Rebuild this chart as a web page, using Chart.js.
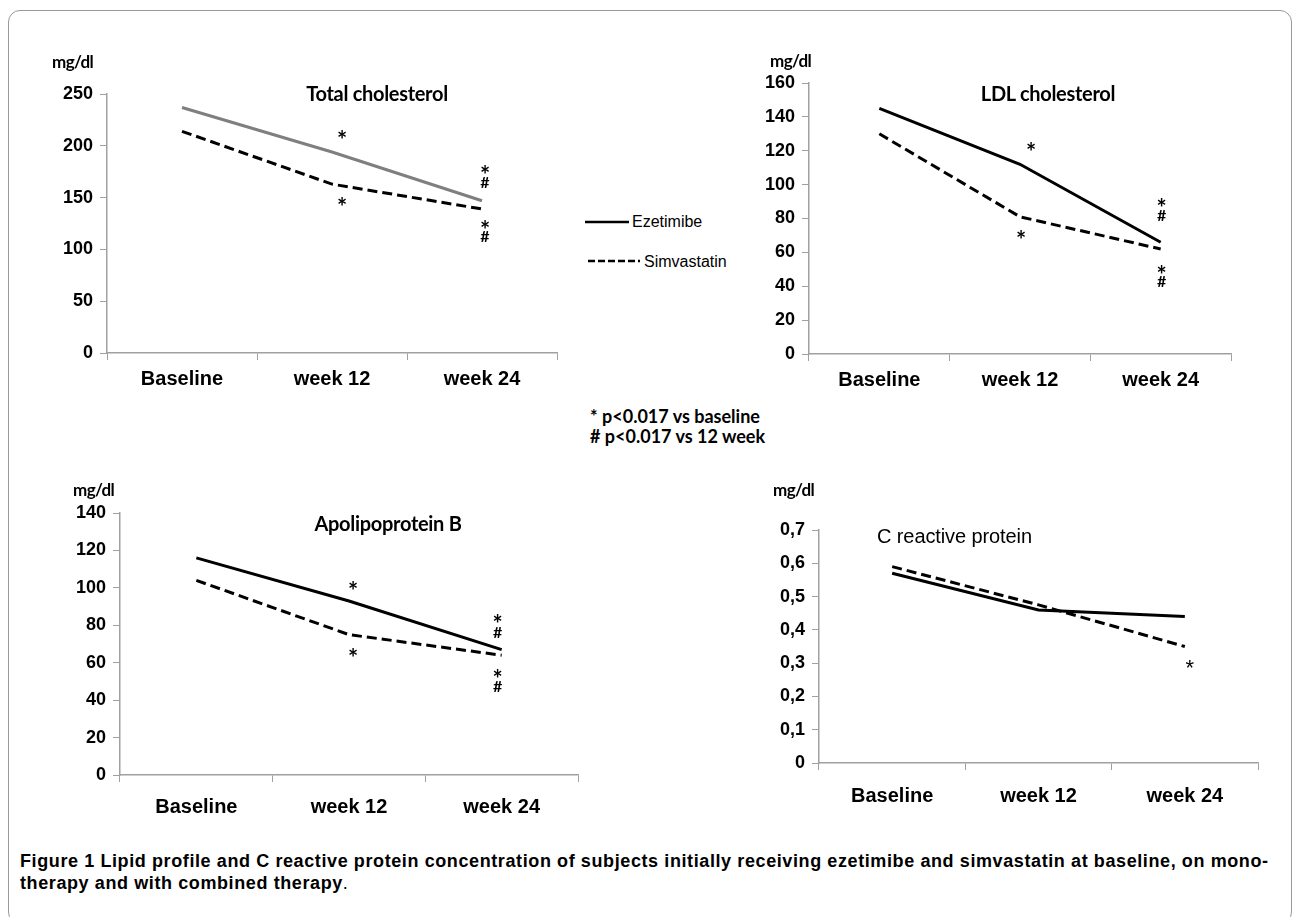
<!DOCTYPE html>
<html>
<head>
<meta charset="utf-8">
<script src="https://cdn.jsdelivr.net/npm/chart.js@4"></script>
<style>
    body { margin: 0; background: #fff; width: 1292px; height: 917px; position: relative; overflow: hidden; }
    .frame { position: absolute; left: 8px; top: 10px; width: 1282px; height: 912px; border: 1px solid #999; border-radius: 12px; }
    canvas { position: absolute; }
    .txt { position: absolute; white-space: nowrap; color: #000; transform: translate(0, -50%); }
    .unit { font: bold 17px Lato, sans-serif; letter-spacing: -0.6px; }
    .title { font: bold 20px Lato, sans-serif; letter-spacing: -0.3px; transform: translate(-50%, -50%); }
    .note { font: bold 18px Lato, sans-serif; letter-spacing: 0px; }
    .legend { font: 16px "Liberation Sans", Arial, sans-serif; }
    .caption { position: absolute; left: 20px; top: 850px; font: bold 18px "Liberation Sans", Arial, sans-serif; line-height: 22px; letter-spacing: 0.6px; white-space: nowrap; }
</style>
</head>
<body>
<div class="frame"></div>

<canvas id="tc"></canvas>
<canvas id="ldl"></canvas>
<canvas id="apo"></canvas>
<canvas id="crp"></canvas>

<div class="txt unit" style="left:52px; top:61px;">mg/dl</div>
<div class="txt unit" style="left:770px; top:60px;">mg/dl</div>
<div class="txt unit" style="left:73px; top:489px;">mg/dl</div>
<div class="txt unit" style="left:773px; top:489px;">mg/dl</div>

<div class="txt title" style="left:377px; top:93px;">Total cholesterol</div>
<div class="txt title" style="left:1048px; top:93px;">LDL cholesterol</div>
<div class="txt title" style="left:388px; top:523px;">Apolipoprotein B</div>
<div class="txt" style="left:877px; top:536px; font: 20px 'Liberation Sans', Arial, sans-serif; letter-spacing:-0.1px;">C reactive protein</div>

<!-- legend -->
<svg style="position:absolute; left:584px; top:210px;" width="60" height="60">
    <line x1="1" y1="12" x2="45" y2="12" stroke="#000" stroke-width="2.5"/>
    <line x1="4" y1="51" x2="56" y2="51" stroke="#000" stroke-width="2.5" stroke-dasharray="7,3"/>
</svg>
<div class="txt legend" style="left:632px; top:222px;">Ezetimibe</div>
<div class="txt legend" style="left:644px; top:262px;">Simvastatin</div>

<div class="txt note" style="left:590px; top:416px;">* p&lt;0.017 vs baseline</div>
<div class="txt note" style="left:590px; top:436px;"># p&lt;0.017 vs 12 week</div>

<div class="caption">Figure 1 Lipid profile and C reactive protein concentration of subjects initially receiving ezetimibe and simvastatin at baseline, on mono-<br>therapy and with combined therapy<span style="font-weight:normal">.</span></div>

<script>
// Data
const categories = ['Baseline', 'week 12', 'week 24'];
const seriesNames = ['Ezetimibe', 'Simvastatin'];

const tcEzetimibe = [237, 194, 147];
const tcSimvastatin = [214, 163, 139];
const tcTicks = [0, 50, 100, 150, 200, 250];

const ldlEzetimibe = [145, 112, 66];
const ldlSimvastatin = [130, 81, 62];
const ldlTicks = [0, 20, 40, 60, 80, 100, 120, 140, 160];

const apoEzetimibe = [116, 93, 67];
const apoSimvastatin = [104, 75, 64];
const apoTicks = [0, 20, 40, 60, 80, 100, 120, 140];

const crpEzetimibe = [0.57, 0.46, 0.44];
const crpSimvastatin = [0.59, 0.475, 0.35];
const crpTicks = [0, 0.1, 0.2, 0.3, 0.4, 0.5, 0.6, 0.7];

// significance marks: dataset, category index, symbol, pixel offset from the point
const tcMarks = [
    { ds: 0, i: 1, text: '*', dx: 10, dy: -18 },
    { ds: 1, i: 1, text: '*', dx: 10, dy: 17 },
    { ds: 0, i: 2, text: '*', dx: 3, dy: -31 },
    { ds: 0, i: 2, text: '#', dx: 3, dy: -18 },
    { ds: 1, i: 2, text: '*', dx: 3, dy: 15 },
    { ds: 1, i: 2, text: '#', dx: 3, dy: 28 }
];
const ldlMarks = [
    { ds: 0, i: 1, text: '*', dx: 11, dy: -18 },
    { ds: 1, i: 1, text: '*', dx: 1, dy: 17 },
    { ds: 0, i: 2, text: '*', dx: 1, dy: -40 },
    { ds: 0, i: 2, text: '#', dx: 1, dy: -26 },
    { ds: 1, i: 2, text: '*', dx: 1, dy: 20 },
    { ds: 1, i: 2, text: '#', dx: 1, dy: 33 }
];
const apoMarks = [
    { ds: 0, i: 1, text: '*', dx: 4, dy: -16 },
    { ds: 1, i: 1, text: '*', dx: 4, dy: 18 },
    { ds: 0, i: 2, text: '*', dx: -4, dy: -31 },
    { ds: 0, i: 2, text: '#', dx: -4, dy: -17 },
    { ds: 1, i: 2, text: '*', dx: -4, dy: 18 },
    { ds: 1, i: 2, text: '#', dx: -4, dy: 32 }
];
const crpMarks = [
    { ds: 1, i: 2, text: '*', dx: 5, dy: 17 }
];

const marksPlugin = {
    id: 'marks',
    afterDatasetsDraw(chart, args, opts) {
        const ctx = chart.ctx;
        const x = chart.scales.x;
        const y = chart.scales.y;
        ctx.save();
        ctx.fillStyle = '#000';
        ctx.textAlign = 'center';
        ctx.textBaseline = 'middle';
        (opts.items || []).forEach(m => {
            const v = chart.data.datasets[m.ds].data[m.i];
            const px = x.getPixelForValue(m.i) + m.dx;
            let py = y.getPixelForValue(v) + m.dy;
            if (m.text === '*') {
                ctx.font = opts.starFont;
                py += opts.starShift;
            } else {
                ctx.font = opts.hashFont;
            }
            ctx.fillText(m.text, px, py);
        });
        ctx.restore();
    }
};

function makeChart(id, box, area, ezetimibe, simvastatin, ticks, marks, style) {
    const canvas = document.getElementById(id);
    canvas.width = box.width;
    canvas.height = box.height;
    canvas.style.left = box.left + 'px';
    canvas.style.top = box.top + 'px';

    const yWidth = area.left - box.left;
    const xHeight = box.top + box.height - area.bottom;

    return new Chart(canvas.getContext('2d'), {
        type: 'line',
        data: {
            labels: categories,
            datasets: [{
                label: seriesNames[0],
                data: ezetimibe,
                borderColor: style.solidColor || '#000',
                borderWidth: 3,
                pointRadius: 0,
                tension: 0,
                fill: false
            }, {
                label: seriesNames[1],
                data: simvastatin,
                borderColor: '#000',
                borderWidth: 3,
                borderDash: [10, 5],
                pointRadius: 0,
                tension: 0,
                fill: false
            }]
        },
        options: {
            responsive: false,
            animation: false,
            layout: {
                padding: {
                    top: area.top - box.top,
                    right: box.left + box.width - area.right,
                    left: 0,
                    bottom: 0
                }
            },
            plugins: {
                legend: { display: false },
                tooltip: { enabled: false },
                marks: {
                    items: marks,
                    starFont: style.starFont || 'bold 24px Lato, sans-serif',
                    starShift: style.starShift || 7,
                    hashFont: 'bold 16px Lato, sans-serif'
                }
            },
            scales: {
                x: {
                    offset: true,
                    afterFit: s => { s.height = xHeight; },
                    grid: {
                        offset: true,
                        drawOnChartArea: false,
                        drawTicks: true,
                        tickLength: 7,
                        color: '#a0a0a0'
                    },
                    border: { display: true, color: '#a0a0a0', width: 1.5 },
                    ticks: {
                        color: '#000',
                        padding: style.xPad || 8,
                        maxRotation: 0,
                        font: style.xFont
                    }
                },
                y: {
                    min: ticks[0],
                    max: ticks[ticks.length - 1],
                    afterFit: s => { s.width = yWidth; },
                    grid: {
                        drawOnChartArea: false,
                        drawTicks: true,
                        tickLength: 7,
                        color: '#a0a0a0'
                    },
                    border: { display: true, color: '#a0a0a0', width: 1.5 },
                    ticks: {
                        stepSize: ticks[1] - ticks[0],
                        color: '#000',
                        padding: 7,
                        font: { family: '"Liberation Sans", Arial, sans-serif', size: 18, weight: 'bold' },
                        callback: style.yFormat || (v => v)
                    }
                }
            }
        },
        plugins: [marksPlugin]
    });
}

const arialBold = { family: '"Liberation Sans", Arial, sans-serif', size: 20, weight: 'bold' };

makeChart('tc',
    { left: 30, top: 40, width: 540, height: 350 },
    { left: 107, top: 94, right: 557, bottom: 353 },
    tcEzetimibe, tcSimvastatin, tcTicks, tcMarks,
    { solidColor: '#7f7f7f', xFont: arialBold, xPad: 7 });

makeChart('ldl',
    { left: 740, top: 40, width: 510, height: 350 },
    { left: 809, top: 83, right: 1231, bottom: 354 },
    ldlEzetimibe, ldlSimvastatin, ldlTicks, ldlMarks,
    { xFont: arialBold, xPad: 7 });

makeChart('apo',
    { left: 40, top: 470, width: 560, height: 350 },
    { left: 120, top: 513, right: 578, bottom: 775 },
    apoEzetimibe, apoSimvastatin, apoTicks, apoMarks,
    { xFont: arialBold, xPad: 13 });

makeChart('crp',
    { left: 740, top: 470, width: 540, height: 345 },
    { left: 819, top: 530, right: 1258, bottom: 763 },
    crpEzetimibe, crpSimvastatin, crpTicks, crpMarks,
    {
        xFont: arialBold,
        xPad: 14,
        starFont: '22px "Liberation Sans", Arial, sans-serif',
        starShift: 5,
        yFormat: v => (Math.round(v * 10) / 10).toString().replace('.', ',')
    });
</script>
</body>
</html>
